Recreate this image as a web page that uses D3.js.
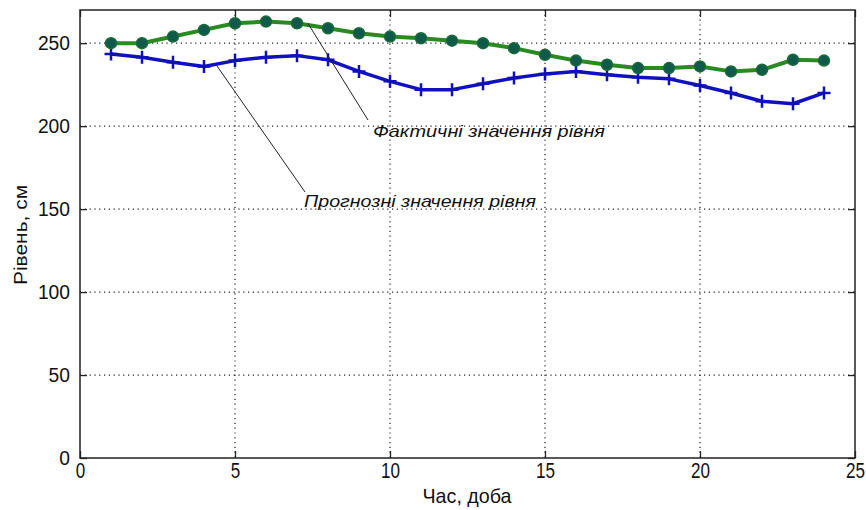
<!DOCTYPE html>
<html>
<head>
<meta charset="utf-8">
<script src="https://cdn.jsdelivr.net/npm/d3@7"></script>
<style>
  html, body { margin: 0; padding: 0; background: #fff; }
  svg { display: block; }
  text { font-family: "Liberation Sans", Arial, sans-serif; fill: #111; }
</style>
</head>
<body>
<svg id="chart" width="866" height="510"></svg>
<script>
// Days of observation
const days = [1,2,3,4,5,6,7,8,9,10,11,12,13,14,15,16,17,18,19,20,21,22,23,24];
// Actual water level, cm
const actual = [250,250,254,258,262,263,262,259,256,254,253,251.5,250,247,243,239.5,237,235,235,236,233,234,240,239.5];
// Forecast water level, cm
const forecast = [243.5,241.5,238.5,236,239.5,241.5,242.5,240,233,227,222,222,225.5,229,231.5,233,231,229.5,228.5,224.5,220,215,213.5,220];
const xTicks = [0,5,10,15,20,25];
const yTicks = [0,50,100,150,200,250];

const svg = d3.select("#chart");
const m = {left: 80, right: 855, top: 10, bottom: 458};
const x = d3.scaleLinear().domain([0, 25]).range([m.left, m.right]);
const y = d3.scaleLinear().domain([0, 270]).range([m.bottom, m.top]);

// narrow, tall glyphs for the axis text
function squeeze(sel, perChar) {
  sel.each(function () {
    const t = d3.select(this);
    t.attr("textLength", t.text().length * perChar).attr("lengthAdjust", "spacingAndGlyphs");
  });
}

// dotted grid
const grid = svg.append("g");
grid.selectAll("line.vx").data(xTicks.slice(1, -1)).join("line")
  .attr("x1", d => x(d)).attr("x2", d => x(d))
  .attr("y1", m.top).attr("y2", m.bottom)
  .attr("stroke", "#222").attr("stroke-width", 1.2).attr("stroke-dasharray", "1.2,3.6");
grid.selectAll("line.hy").data(yTicks.slice(1)).join("line")
  .attr("x1", m.left).attr("x2", m.right)
  .attr("y1", d => y(d)).attr("y2", d => y(d))
  .attr("stroke", "#222").attr("stroke-width", 1.2).attr("stroke-dasharray", "1.2,3.6");

// axes with inward ticks on all four sides
const tl = 7;
svg.append("g").attr("transform", `translate(0,${m.bottom})`)
  .call(d3.axisBottom(x).tickValues(xTicks).tickSize(-tl).tickPadding(4).tickFormat(d3.format("d")))
  .call(g => g.select(".domain").remove())
  .call(g => g.selectAll("text").attr("font-size", 22).attr("dy", "0.72em").call(squeeze, 9.5));
svg.append("g").attr("transform", `translate(0,${m.top})`)
  .call(d3.axisTop(x).tickValues(xTicks).tickSize(-tl).tickFormat(""))
  .call(g => g.select(".domain").remove());
svg.append("g").attr("transform", `translate(${m.left},0)`)
  .call(d3.axisLeft(y).tickValues(yTicks).tickSize(-tl).tickPadding(10).tickFormat(d3.format("d")))
  .call(g => g.select(".domain").remove())
  .call(g => g.selectAll("text").attr("font-size", 20).call(squeeze, 10.7));
svg.append("g").attr("transform", `translate(${m.right},0)`)
  .call(d3.axisRight(y).tickValues(yTicks).tickSize(-tl).tickFormat(""))
  .call(g => g.select(".domain").remove());
svg.selectAll(".tick line").attr("stroke", "#222").attr("stroke-width", 1.3);

svg.append("rect")
  .attr("x", m.left).attr("y", m.top)
  .attr("width", m.right - m.left).attr("height", m.bottom - m.top)
  .attr("fill", "none").attr("stroke", "#222").attr("stroke-width", 1.5);

const line = d3.line().x((d, i) => x(days[i])).y(d => y(d));

// forecast series: blue line with plus markers
svg.append("path").datum(forecast)
  .attr("d", line).attr("fill", "none")
  .attr("stroke", "#1010c0").attr("stroke-width", 3.5).attr("stroke-linejoin", "round");
svg.append("g").selectAll("path").data(forecast).join("path")
  .attr("d", (d, i) => {
    const cx = x(days[i]), cy = y(d), r = 6.5;
    return `M${cx - r},${cy}H${cx + r}M${cx},${cy - r}V${cy + r}`;
  })
  .attr("stroke", "#1010b8").attr("stroke-width", 2.5);

// actual series: green line with dark circle markers
svg.append("path").datum(actual)
  .attr("d", line).attr("fill", "none")
  .attr("stroke", "#2a8a22").attr("stroke-width", 4).attr("stroke-linejoin", "round");
svg.append("g").selectAll("circle").data(actual).join("circle")
  .attr("cx", (d, i) => x(days[i])).attr("cy", d => y(d)).attr("r", 5.5)
  .attr("fill", "#0f5a4a").attr("stroke", "#1a6a3a").attr("stroke-width", 1.5);

// callout labels
const notes = [
  {text: "Фактичні значення рівня", day: 7.35, val: 262, tx: 368, ty: 120, lx: 373, ly: 137},
  {text: "Прогнозні значення рівня", day: 4.41, val: 236.5, tx: 305, ty: 192, lx: 304, ly: 207}
];
notes.forEach(n => {
  svg.append("line")
    .attr("x1", x(n.day)).attr("y1", y(n.val))
    .attr("x2", n.tx).attr("y2", n.ty)
    .attr("stroke", "#222").attr("stroke-width", 1);
  svg.append("text").attr("x", n.lx).attr("y", n.ly)
    .attr("font-size", 17).attr("font-style", "italic")
    .attr("textLength", 232).attr("lengthAdjust", "spacingAndGlyphs")
    .text(n.text);
});

// axis titles
svg.append("text").attr("x", 467).attr("y", 503)
  .attr("text-anchor", "middle").attr("font-size", 21)
  .attr("textLength", 89).attr("lengthAdjust", "spacingAndGlyphs").text("Час, доба");
svg.append("text").attr("transform", "translate(27,235) rotate(-90)")
  .attr("text-anchor", "middle").attr("font-size", 18)
  .attr("textLength", 100).attr("lengthAdjust", "spacingAndGlyphs").text("Рівень, см");
</script>
</body>
</html>
